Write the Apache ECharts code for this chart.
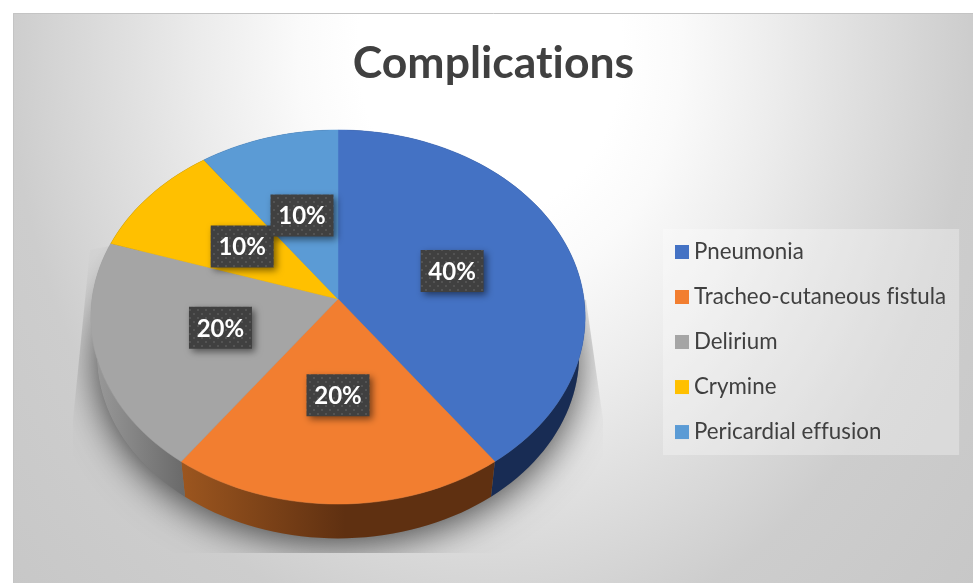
<!DOCTYPE html>
<html>
<head>
<meta charset="utf-8">
<title>Complications</title>
<style>
  html, body { margin: 0; padding: 0; background: #fff; }
  #main { width: 973px; height: 583px; }
</style>
<script src="https://cdn.jsdelivr.net/npm/echarts@6/dist/echarts.min.js"></script>
</head>
<body>
<div id="main"></div>
<script>
var categories = ['Pneumonia', 'Tracheo-cutaneous fistula', 'Delirium', 'Crymine', 'Pericardial effusion'];
var values = [40, 20, 20, 10, 10];
var labels = ['40%', '20%', '20%', '10%', '10%'];
var colors = ['#4472c4', '#f27e30', '#a5a5a5', '#ffc000', '#5b9bd5'];
var chartTitle = 'Complications';

// a tiny letter spacing switches off the ti / fi ligatures of the font
var plainGetContext = HTMLCanvasElement.prototype.getContext;
HTMLCanvasElement.prototype.getContext = function (type, opts) {
  var ctx = plainGetContext.call(this, type, opts);
  if (type == '2d' && ctx) ctx.letterSpacing = '0.01px';
  return ctx;
};

// tilted pie: circle seen in perspective, k = how much nearer the front edge is
var cx = 338, k = 0.0963;
var topFace = { cy: 299, a: 185.3, b: 246 };
var lowFace = { cy: 337, a: 182, b: 240 };

var total = 0;
for (var i = 0; i < values.length; i++) total += values[i];

function project(face, deg, r) {
  var t = deg * Math.PI / 180;
  var X = Math.sin(t) * r, Y = Math.cos(t) * r;
  var d = 1 + k * Y;
  return [cx + face.b * X / d, face.cy - face.a * Y / d];
}

function arc(face, from, to) {
  var pts = [];
  var n = Math.max(2, Math.ceil((to - from) / 2));
  for (var i = 0; i <= n; i++) pts.push(project(face, from + (to - from) * i / n, 1));
  return pts;
}

function wallFill(idx) {
  if (idx == 1) {
    return new echarts.graphic.LinearGradient(181, 0, 345, 0, [
      { offset: 0, color: '#9c561f' }, { offset: 1, color: '#5f3011' }
    ], true);
  }
  if (idx == 2) {
    return new echarts.graphic.LinearGradient(93, 0, 184, 0, [
      { offset: 0, color: '#9a9a9a' }, { offset: 1, color: '#6a6a6a' }
    ], true);
  }
  return '#182c54';
}

// dotted fill of the data label boxes
function dotPattern() {
  var c = document.createElement('canvas');
  c.width = 8; c.height = 8;
  var g = c.getContext('2d');
  g.fillStyle = '#404040';
  g.fillRect(0, 0, 8, 8);
  g.fillStyle = '#535353';
  g.fillRect(1, 1, 2, 2);
  g.fillRect(5, 5, 2, 2);
  return c;
}
var dots = dotPattern();

function sliceRenderer(idx) {
  var before = 0;
  for (var i = 0; i < idx; i++) before += values[i];
  return function (params, api) {
    var from = before / total * 360;
    var to = (before + api.value(0)) / total * 360;
    var mid = project(topFace, (from + to) / 2, 0.495);
    var children = [];

    // soft shadow under the pie, cut off like the picture
    if (idx == 0) {
      children.push({
        type: 'polygon',
        silent: true,
        z2: 0,
        shape: { points: arc(lowFace, 0, 360) },
        style: { fill: '#777', shadowColor: 'rgba(0,0,0,0.7)', shadowBlur: 38, shadowOffsetY: 6 },
        clipPath: {
          type: 'polygon',
          shape: { points: [[90, 250], [73, 420], [73, 553], [603, 553], [603, 420], [586, 300], [338, 200]] }
        }
      });
    }

    children.push({
      type: 'polygon',
      z2: 1,
      shape: { points: arc(topFace, from, to).concat(arc(lowFace, from, to).reverse()) },
      style: { fill: wallFill(idx), stroke: null }
    });
    children.push({
      type: 'polygon',
      z2: 5,
      shape: { points: [[cx, topFace.cy]].concat(arc(topFace, from, to)) },
      style: { fill: colors[idx], stroke: colors[idx], lineWidth: 0.5 }
    });
    children.push({
      type: 'rect',
      z2: 10 + idx,
      shape: { x: mid[0] - 31.5, y: mid[1] - 21, width: 63, height: 42 },
      style: {
        fill: { image: dots, repeat: 'repeat' },
        shadowColor: 'rgba(0,0,0,0.5)', shadowBlur: 7, shadowOffsetX: 3, shadowOffsetY: 3
      }
    });
    children.push({
      type: 'text',
      z2: 10 + idx,
      x: mid[0],
      y: mid[1] + 1,
      style: {
        text: labels[idx],
        fill: '#fff',
        font: 'bold 24px Lato',
        align: 'center',
        verticalAlign: 'middle'
      }
    });
    return { type: 'group', children: children };
  };
}

var seriesList = [];
for (var s = 0; s < categories.length; s++) {
  seriesList.push({
    name: categories[s],
    type: 'custom',
    coordinateSystem: 'none',
    itemStyle: { color: colors[s] },
    renderItem: sliceRenderer(s),
    data: [[values[s]]]
  });
}

var myChart = echarts.init(document.getElementById('main'));

var option = {
  animation: false,
  title: {
    text: chartTitle,
    left: 488.5,
    top: 36,
    textAlign: 'center',
    textStyle: { color: '#404040', fontFamily: 'Lato', fontWeight: 'bold', fontSize: 44.5 }
  },
  legend: {
    orient: 'vertical',
    left: 663,
    top: 229,
    padding: [12, 13, 12, 12],
    backgroundColor: 'rgba(255,255,255,0.3)',
    itemWidth: 14,
    itemHeight: 14,
    itemGap: 23,
    icon: 'rect',
    data: categories,
    textStyle: { color: '#404040', fontFamily: 'Lato', fontSize: 22.3 }
  },
  graphic: [
    {
      // background: the gradient is an ellipse, so the rect is stretched in y
      type: 'rect',
      z: -10,
      silent: true,
      y: 13,
      scaleY: 1.25,
      shape: { x: 13, y: 0, width: 960, height: 456 },
      style: {
        fill: new echarts.graphic.RadialGradient(490, 30, 680, [
          { offset: 0, color: '#ffffff' },
          { offset: 0.194, color: '#ffffff' },
          { offset: 0.282, color: '#fafafa' },
          { offset: 0.423, color: '#ececec' },
          { offset: 0.53, color: '#e0e0e0' },
          { offset: 0.706, color: '#cdcdcd' },
          { offset: 1, color: '#c6c6c6' }
        ], true)
      }
    },
    {
      type: 'rect',
      z: -9,
      silent: true,
      shape: { x: 13.5, y: 13.5, width: 970, height: 580 },
      style: { fill: null, stroke: '#c4c4c4', lineWidth: 1 }
    }
  ],
  series: seriesList
};
myChart.setOption(option);
window.addEventListener('resize', function () {
  myChart.resize();
});
</script>
</body>
</html>
